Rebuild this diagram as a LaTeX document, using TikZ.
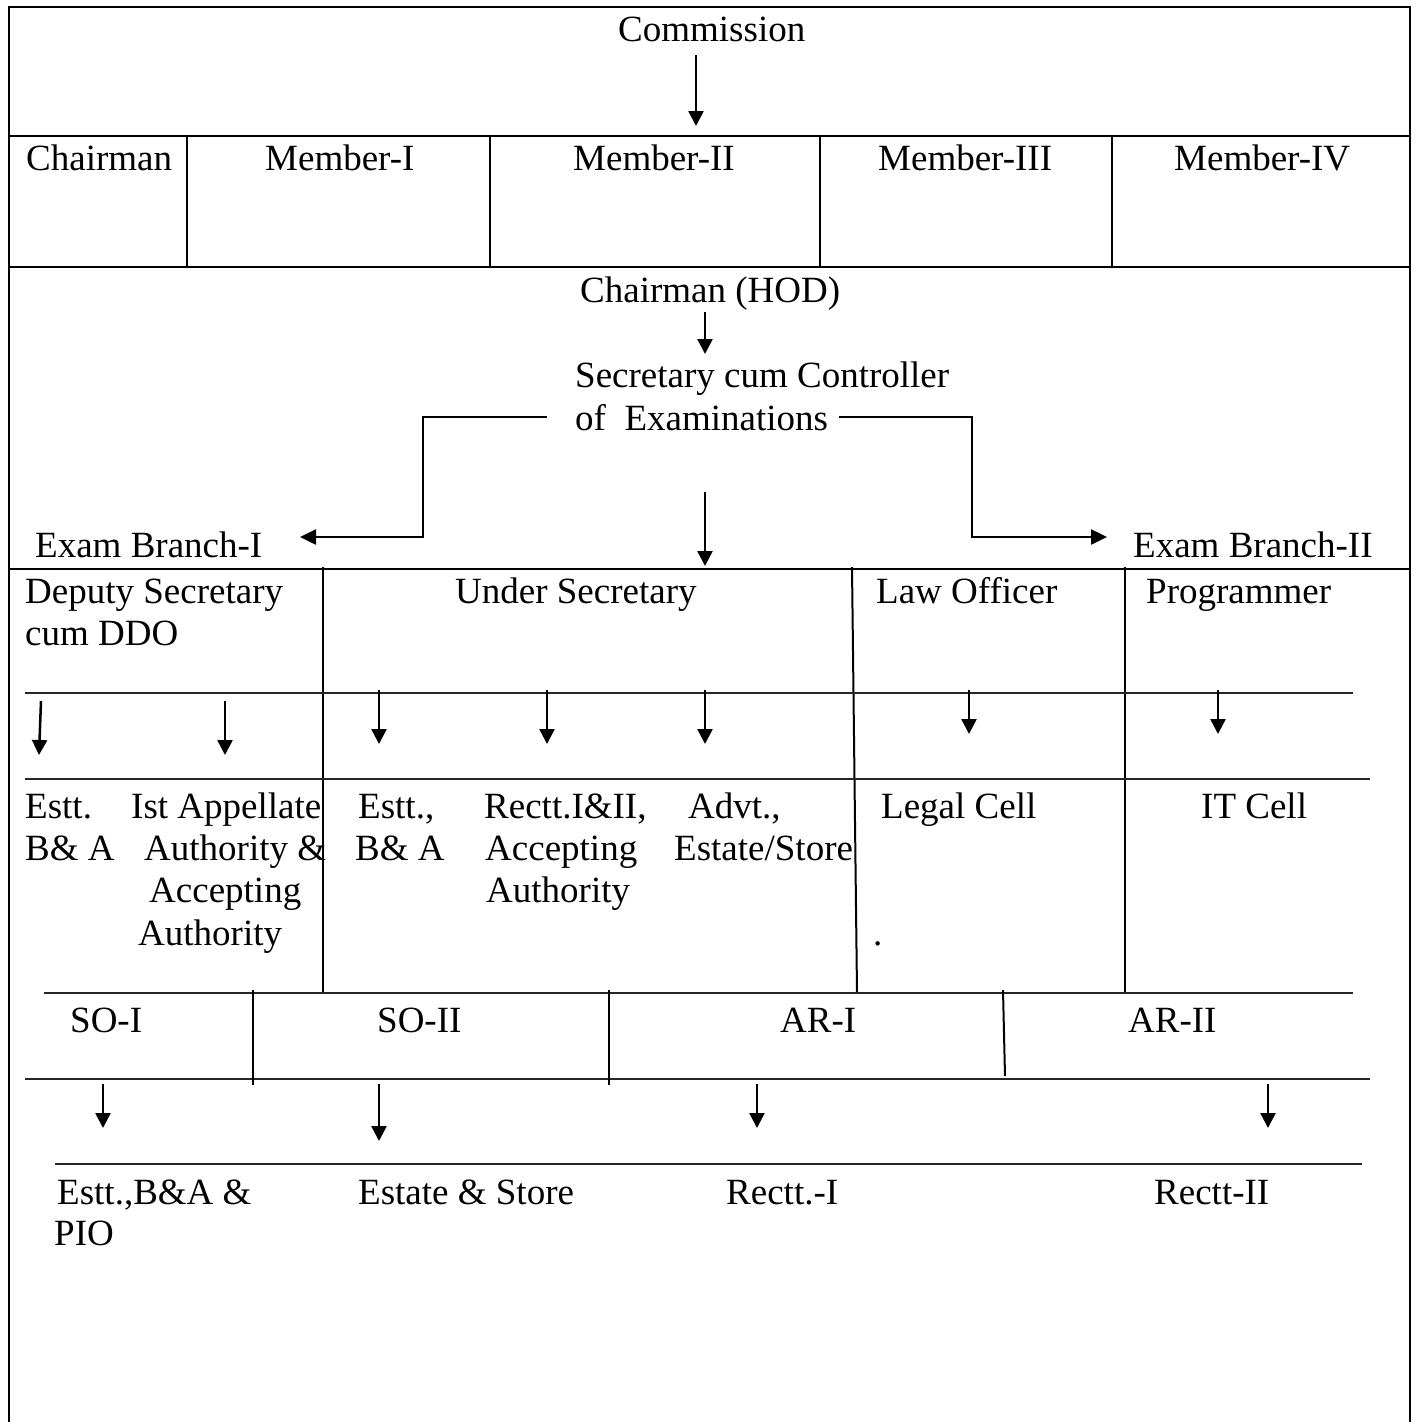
\documentclass[tikz,border=0pt]{standalone}
\usepackage{fontspec}
\setmainfont{Liberation Serif}
\usetikzlibrary{arrows.meta}
\begin{document}
\begin{tikzpicture}[x=1pt,y=-1pt,
  lbl/.style={anchor=base west, inner sep=0pt, font=\fontsize{37}{42}\selectfont},
  frame/.style={line width=2.6pt},
  cellline/.style={line width=2pt},
  rulel/.style={line width=2pt, black!85},
  arr/.style={line width=2.5pt, -{Triangle[length=15pt,width=15pt]}},
  elbow/.style={line width=2.5pt, -{Triangle[length=16pt,width=15pt]}},
]
\useasboundingbox (0,0) rectangle (1417,1422);

% ---- outer frame and main rows ----
\draw[frame] (9,1422) -- (9,7) -- (1410,7) -- (1410,1422);
\draw[frame] (9,136) -- (1410,136);
\draw[frame] (9,267) -- (1410,267);
\draw[frame] (9,569) -- (1410,569);
% member dividers
\foreach \x in {187,490,820,1112} \draw[cellline] (\x,136) -- (\x,267);
% officer row dividers
\draw[cellline] (323,567) -- (323,992);
\draw[cellline] (852,567) -- (857,992);
\draw[cellline] (1125,567) -- (1125,992);
% rules (underscore lines)
\draw[rulel] (25,693) -- (1353,693);
\draw[rulel] (25,779) -- (1370,779);
\draw[rulel] (44,993) -- (1353,993);
\draw[rulel] (25,1079) -- (1370,1079);
\draw[rulel] (55,1164) -- (1362,1164);
% SO / AR dividers
\draw[cellline] (253,990) -- (253,1085);
\draw[cellline] (609,990) -- (609,1085);
\draw[cellline] (1003,990) -- (1005,1076);

% ---- texts ----
\node[lbl] (commission) at (618,41) {Commission};
\node[lbl] (chair) at (26,170) {Chairman};
\node[lbl] (m1) at (265,170) {Member-I};
\node[lbl] (m2) at (573,170) {Member-II};
\node[lbl] (m3) at (878,170) {Member-III};
\node[lbl] (m4) at (1174,170) {Member-IV};
\node[lbl] (hod) at (580,302) {Chairman (HOD)};
\node[lbl] (sec1) at (575,387) {Secretary cum Controller};
\node[lbl] (sec2) at (575,430) {of\ \ Examinations};
\node[lbl] (eb1) at (35,557) {Exam Branch-I};
\node[lbl] (eb2) at (1133,557) {Exam Branch-II};

\node[lbl] (ds1) at (25,603) {Deputy Secretary};
\node[lbl] (ds2) at (25,645) {cum DDO};
\node[lbl] (us) at (455,603) {Under Secretary};
\node[lbl] (lo) at (876,603) {Law Officer};
\node[lbl] (pr) at (1146,603) {Programmer};

\node[lbl] (a1) at (25,818) {Estt.};
\node[lbl] (a2) at (25,860) {B\& A};
\node[lbl] (b1) at (131,818) {Ist Appellate};
\node[lbl] (b2) at (144,860) {Authority \&};
\node[lbl] (b3) at (149,902) {Accepting};
\node[lbl] (b4) at (138,945) {Authority};
\node[lbl] (c1) at (358,818) {Estt.,};
\node[lbl] (c2) at (355,860) {B\& A};
\node[lbl] (d1) at (484,818) {Rectt.I\&II,};
\node[lbl] (d2) at (485,860) {Accepting};
\node[lbl] (d3) at (486,902) {Authority};
\node[lbl] (e1) at (688,818) {Advt.,};
\node[lbl] (e2) at (674,860) {Estate/Store};
\node[lbl] (lc) at (881,818) {Legal Cell};
\node[lbl] (dot) at (873,945) {.};
\node[lbl] (it) at (1201,818) {IT Cell};

\node[lbl] (so1) at (70,1032) {SO-I};
\node[lbl] (so2) at (377,1032) {SO-II};
\node[lbl] (ar1) at (780,1032) {AR-I};
\node[lbl] (ar2) at (1128,1032) {AR-II};

\node[lbl] (f1) at (57,1204) {Estt.,B\&A \&};
\node[lbl] (f2) at (54,1245) {PIO};
\node[lbl] (g1) at (358,1204) {Estate \& Store};
\node[lbl] (h1) at (726,1204) {Rectt.-I};
\node[lbl] (k1) at (1154,1204) {Rectt-II};

% ---- arrows ----
\coordinate (p1s) at (696,55);   \coordinate (p1e) at (696,126);
\coordinate (p2s) at (705,312);  \coordinate (p2e) at (705,354);
\coordinate (p3s) at (705,492);  \coordinate (p3e) at (705,566);
\draw[arr] (p1s) -- (p1e);
\draw[arr] (p2s) -- (p2e);
\draw[arr] (p3s) -- (p3e);

\coordinate (l0) at (547,417); \coordinate (l1) at (423,417);
\coordinate (l2) at (423,537); \coordinate (l3) at (300,537);
\draw[elbow] (l0) -- (l1) -- (l2) -- (l3);
\coordinate (r0) at (839,417); \coordinate (r1) at (972,417);
\coordinate (r2) at (972,537); \coordinate (r3) at (1107,537);
\draw[elbow] (r0) -- (r1) -- (r2) -- (r3);

\foreach \n/\x/\y/\a/\b in {q1/41/39/701/755, q2/225/225/701/755, q3/379/379/690/744, q4/547/547/690/744,
  q5/705/705/690/744, q6/969/969/690/734, q7/1218/1218/690/734,
  s1/103/103/1084/1128, s2/379/379/1084/1141, s3/757/757/1084/1128, s4/1268/1268/1084/1128}{
  \coordinate (\n s) at (\x,\a);
  \coordinate (\n e) at (\y,\b);
  \draw[arr] (\n s) -- (\n e);
}
\end{tikzpicture}
\end{document}
